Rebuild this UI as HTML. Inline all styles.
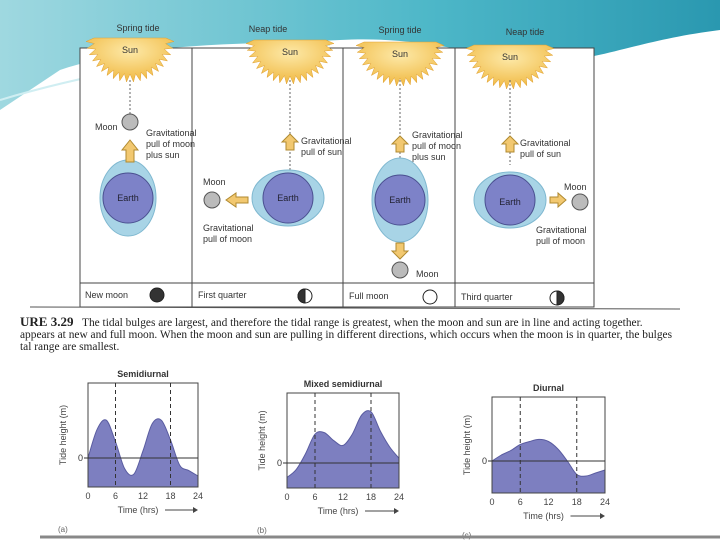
<!DOCTYPE html>
<html><head><meta charset="utf-8"><style>
body{margin:0;width:720px;height:540px;overflow:hidden;background:#fff;font-family:"Liberation Sans",sans-serif}
svg{position:absolute;left:0;top:0}
.cap{position:absolute;left:20px;top:316px;width:700px;font-family:"Liberation Serif",serif;font-size:11.4px;line-height:12px;color:#222;white-space:nowrap}
</style></head><body>
<svg width="720" height="540">
<defs>
<linearGradient id="wave" x1="0" x2="1"><stop offset="0" stop-color="#9fd8e0"/><stop offset="0.6" stop-color="#4db7c8"/><stop offset="1" stop-color="#2a98b0"/></linearGradient>
<radialGradient id="sun" cx="0.5" cy="0.3" r="0.7"><stop offset="0" stop-color="#fde9a8"/><stop offset="1" stop-color="#f0b840"/></radialGradient>
</defs>
<path d="M0 0H720V30C640 40 600 60 560 60C480 60 430 35 340 40C250 45 150 40 60 70L0 110Z" fill="url(#wave)"/>
<path d="M0 100C100 70 200 55 330 45" stroke="#d0eef2" stroke-width="2" fill="none"/>
<rect x="80" y="48" width="514" height="259" fill="#fff" stroke="#444" stroke-width="1"/>
<g stroke="#444"><line x1="192" y1="48" x2="192" y2="307"/><line x1="343" y1="48" x2="343" y2="307"/><line x1="455" y1="48" x2="455" y2="307"/><line x1="80" y1="283" x2="594" y2="283"/></g>
<g font-size="9" fill="#333" text-anchor="middle">
<text x="138" y="31">Spring tide</text><text x="268" y="32">Neap tide</text><text x="400" y="33">Spring tide</text><text x="525" y="35">Neap tide</text>
</g>
<g id="suns"></g>
<g font-size="9" fill="#333">
<text x="95" y="130">Moon</text>
<text x="146" y="136">Gravitational</text><text x="146" y="147">pull of moon</text><text x="146" y="158">plus sun</text>
<text x="301" y="144">Gravitational</text><text x="301" y="155">pull of sun</text>
<text x="203" y="185">Moon</text>
<text x="203" y="231">Gravitational</text><text x="203" y="242">pull of moon</text>
<text x="412" y="138">Gravitational</text><text x="412" y="149">pull of moon</text><text x="412" y="160">plus sun</text>
<text x="416" y="277">Moon</text>
<text x="520" y="146">Gravitational</text><text x="520" y="157">pull of sun</text>
<text x="564" y="190">Moon</text>
<text x="536" y="233">Gravitational</text><text x="536" y="244">pull of moon</text>
<text x="85" y="298">New moon</text><text x="198" y="298">First quarter</text><text x="349" y="299">Full moon</text><text x="461" y="300">Third quarter</text>
</g>
<g stroke="#666" stroke-dasharray="2,2"><line x1="130" y1="80" x2="130" y2="120"/><line x1="290" y1="80" x2="290" y2="175"/><line x1="400" y1="80" x2="400" y2="160"/><line x1="510" y1="80" x2="510" y2="165"/></g>
<g fill="#a8d4e6" stroke="#7fb8d0">
<ellipse cx="128" cy="198" rx="28" ry="38"/><ellipse cx="288" cy="198" rx="36" ry="28"/><ellipse cx="400" cy="200" rx="28" ry="42"/><ellipse cx="510" cy="200" rx="36" ry="28"/>
</g>
<g fill="#7d82c8" stroke="#4a5090">
<circle cx="128" cy="198" r="25"/><circle cx="288" cy="198" r="25"/><circle cx="400" cy="200" r="25"/><circle cx="510" cy="200" r="25"/>
</g>
<g font-size="9" fill="#223" text-anchor="middle"><text x="128" y="201">Earth</text><text x="288" y="201">Earth</text><text x="400" y="203">Earth</text><text x="510" y="205">Earth</text></g>
<g fill="#bbb" stroke="#555"><circle cx="130" cy="122" r="8"/><circle cx="212" cy="200" r="8"/><circle cx="400" cy="270" r="8"/><circle cx="580" cy="202" r="8"/></g>
<g fill="#f2c870" stroke="#b08a30">
<path d="M126 162V150H122L130 140L138 150H134V162Z"/><path d="M286 150V142H282L290 134L298 142H294V150Z"/><path d="M396 152V144H392L400 136L408 144H404V152Z"/><path d="M506 152V144H502L510 136L518 144H514V152Z"/>
<path d="M248 197H236V193L226 200L236 207V203H248Z"/><path d="M550 197H558V193L566 200L558 207V203H550Z"/><path d="M396 243V251H392L400 259L408 251H404V243Z"/>
</g>
<g stroke="#222"><circle cx="157" cy="295" r="7" fill="#333"/><circle cx="305" cy="296" r="7" fill="#fff"/><path d="M305 289A7 7 0 0 0 305 303Z" fill="#333"/><circle cx="430" cy="297" r="7" fill="#fff"/><circle cx="557" cy="298" r="7" fill="#fff"/><path d="M557 291A7 7 0 0 1 557 305Z" fill="#333"/></g>
<line x1="30" y1="307" x2="680" y2="309" stroke="#555"/>
<g id="charts"></g>
<line x1="40" y1="537" x2="720" y2="537" stroke="#888" stroke-width="3"/>
</svg>
<div class="cap"><b style="font-size:13px">URE 3.29</b> &nbsp;&nbsp;The tidal bulges are largest, and therefore the tidal range is greatest, when the moon and sun are in line and acting together.<br>appears at new and full moon. When the moon and sun are pulling in different directions, which occurs when the moon is in quarter, the bulges<br>tal range are smallest.</div>
<script>
const ns="http://www.w3.org/2000/svg";
function mk(p,t,a){const e=document.createElementNS(ns,t);for(const k in a)e.setAttribute(k,a[k]);p.appendChild(e);return e;}
const sg=document.getElementById('suns');
[[130,38],[290,40],[400,42],[510,45]].forEach(([cx,cy])=>{
 let pts=[];for(let i=0;i<=40;i++){const a=Math.PI*i/40;const r=i%2?44:36;pts.push((cx+r*Math.cos(a)).toFixed(1)+","+(cy+r*Math.sin(a)).toFixed(1));}
 const s=mk(sg,'polygon',{points:pts.join(' '),fill:'url(#sun)',stroke:'#e0a030','stroke-width':0.5});
 
 
 const t=mk(sg,'text',{x:cx,y:cy+15,'font-size':9,'text-anchor':'middle',fill:'#333'});t.textContent='Sun';
});
// chart data
const hours=[0,2,4,6,8,10,12,14,16,18,20,22,24];
const semidiurnal=[0.0,0.8,1.05,0.45,-0.3,-0.45,0.2,0.95,1.05,0.5,-0.2,-0.35,-0.5];
const mixed=[-0.45,-0.2,0.3,0.9,0.95,0.7,0.55,0.9,1.5,1.6,1.0,0.5,0.15];
const diurnal=[0.0,0.2,0.35,0.55,0.65,0.72,0.65,0.4,0.0,-0.45,-0.5,-0.4,-0.3];
const titles=['Semidiurnal','Mixed semidiurnal','Diurnal'];
const tickLabels=['0','6','12','18','24'];
const boxes=[{x:88,y:383,w:110,h:104,z:458,s:36,lab:'(a)'},{x:287,y:393,w:112,h:95,z:463,s:32,lab:'(b)'},{x:492,y:397,w:113,h:96,z:461,s:30,lab:'(c)'}];
const series=[semidiurnal,mixed,diurnal];
const cg=document.getElementById('charts');
boxes.forEach((b,ci)=>{
 const g=mk(cg,'g',{});
 
 
 const xs=h=>b.x+h/24*b.w, ys=v=>Math.max(b.y,Math.min(b.y+b.h,b.z-v*b.s));
 const P=series[ci].map((v,i)=>[xs(hours[i]),ys(v)]);
 let d='M'+xs(0)+','+(b.y+b.h)+' L'+P[0][0]+','+P[0][1];
 for(let i=0;i<P.length-1;i++){const p0=P[Math.max(0,i-1)],p1=P[i],p2=P[i+1],p3=P[Math.min(P.length-1,i+2)];
  d+=` C${(p1[0]+(p2[0]-p0[0])/6).toFixed(1)},${(p1[1]+(p2[1]-p0[1])/6).toFixed(1)} ${(p2[0]-(p3[0]-p1[0])/6).toFixed(1)},${(p2[1]-(p3[1]-p1[1])/6).toFixed(1)} ${p2[0].toFixed(1)},${p2[1].toFixed(1)}`;}
 d+=' L'+xs(24)+','+(b.y+b.h)+'Z';
 const a=mk(g,'path',{d:d,fill:'#7d7fc0','stroke':'#5a5ca0','stroke-linejoin':'round'});
 
 
 mk(g,'rect',{x:b.x,y:b.y,width:b.w,height:b.h,fill:'none',stroke:'#444'});
 mk(g,'line',{x1:b.x-4,x2:b.x+b.w,y1:b.z,y2:b.z,stroke:'#333'});
 [6,18].forEach(h=>mk(g,'line',{x1:xs(h),x2:xs(h),y1:b.y,y2:b.y+b.h,stroke:'#333','stroke-dasharray':'4,3'}));
 const z=mk(g,'text',{x:b.x-10,y:b.z+3,'font-size':9,fill:'#333'});z.textContent='0';
 tickLabels.forEach((t,i)=>{const e=mk(g,'text',{x:xs(i*6),y:b.y+b.h+12,'font-size':9,fill:'#444','text-anchor':'middle'});e.textContent=t;});
 const tt=mk(g,'text',{x:b.x+b.w/2,y:b.y-6,'font-size':9,'font-weight':'bold',fill:'#333','text-anchor':'middle'});tt.textContent=titles[ci];
 const xl=mk(g,'text',{x:b.x+b.w/2-5,y:b.y+b.h+26,'font-size':9,fill:'#444','text-anchor':'middle'});xl.textContent='Time (hrs)';
 mk(g,'line',{x1:b.x+b.w/2+22,x2:b.x+b.w-5,y1:b.y+b.h+23,y2:b.y+b.h+23,stroke:'#444'});
 mk(g,'path',{d:`M${b.x+b.w-5},${b.y+b.h+20}l5,3l-5,3z`,fill:'#444'});
 const yl=mk(g,'text',{x:0,y:0,'font-size':9,fill:'#444','text-anchor':'middle',transform:`translate(${b.x-22},${b.y+b.h/2}) rotate(-90)`});yl.textContent='Tide height (m)';
 const l=mk(g,'text',{x:b.x-30,y:b.y+b.h+45,'font-size':8,fill:'#666'});l.textContent=b.lab;
});
</script>
</body></html>
